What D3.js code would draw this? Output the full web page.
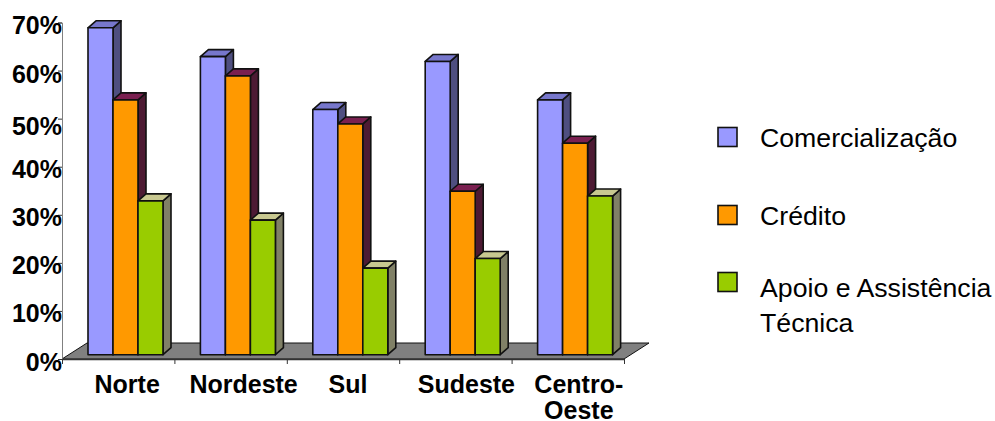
<!DOCTYPE html>
<html><head><meta charset="utf-8">
<script src="https://cdn.jsdelivr.net/npm/d3@7"></script>
<style>html,body{margin:0;padding:0;background:#fff;overflow:hidden}svg{display:block}text{font-family:"Liberation Sans",Arial,sans-serif;fill:#000}</style>
</head><body><div id="c"></div>
<script>
const categories = [["Norte"],["Nordeste"],["Sul"],["Sudeste"],["Centro-","Oeste"]];
const seriesNames = ["Comercialização","Crédito","Apoio e Assistência Técnica"];
const comercializacao = [68,62,51,61,53];
const credito = [53,58,48,34,44];
const apoio = [32,28,18,20,33];
const yTicks = [0,10,20,30,40,50,60,70];
const seriesValues = [comercializacao,credito,apoio];
const front = ["#9999ff","#ff9900","#99cc00"];
const topC = ["#7777cc","#7a2050","#c8c890"];
const side = ["#4f4f80","#4d1a33","#808066"];

const W=995,H=421;
const svg=d3.select("#c").append("svg").attr("width",W).attr("height",H);
const axisX0=62,axisX1=624,axisY0=359,axisY1=22.5;
const depthX=25,depthY=16, barDX=8, barDY=7, barBase=354.7;
const x0=d3.scaleBand().domain(d3.range(categories.length)).range([axisX0,axisX1]);
const x1=d3.scaleBand().domain(d3.range(3)).range([26,101]);
const y=d3.scaleLinear().domain([0,70]).range([axisY0,axisY1]);
const yBar=d3.scaleLinear().domain([0,70]).range([barBase,barBase-(axisY0-axisY1)]);
const path=d3.line();

// floor
svg.append("path").attr("d",path([[axisX0,axisY0],[axisX0+depthX,axisY0-depthY],[axisX1+depthX,axisY0-depthY],[axisX1,axisY0]])+"Z")
 .attr("fill","#808080").attr("stroke","#111").attr("stroke-width",1);

// axes
const yLabelShift={50:5,60:1};
const yAxis=d3.axisLeft(y).tickValues(yTicks).tickSize(4).tickFormat(d=>d+"%");
const gy=svg.append("g").attr("transform",`translate(${axisX0},0)`).call(yAxis);
gy.select(".domain").attr("stroke","#808080").attr("stroke-width",1);
gy.selectAll(".tick line").attr("stroke","#333");
gy.selectAll(".tick text").attr("x",0).attr("dy",0).attr("y",d=>11+(yLabelShift[d]||0)).attr("text-anchor","end")
 .style("font-size","25px").style("font-weight","700");

const xEdge=d3.scaleLinear().domain([0,categories.length]).range([axisX0,axisX1]);
const gx=svg.append("g").attr("transform",`translate(0,${axisY0})`)
 .call(d3.axisBottom(xEdge).ticks(5).tickSize(5).tickFormat(""));
gx.select(".domain").attr("stroke","#333").attr("stroke-width",1.5).attr("d",`M${axisX0},0.5H${axisX1}`);
gx.selectAll(".tick line").attr("stroke","#333");

// category labels
const catNudge=[9,13,5,11,11];
const cat=svg.append("g").selectAll("text").data(categories).join("text")
 .attr("text-anchor","middle").style("font-size","25px").style("font-weight","700");
cat.each(function(d,i){
  d3.select(this).selectAll("tspan").data(d).join("tspan")
   .attr("x",x0(i)+x0.bandwidth()/2+catNudge[i]).attr("y",(e,j)=>392.7+j*26.5).text(e=>e);
});

// bars
categories.forEach((c,i)=>{
  const g=svg.append("g").attr("transform",`translate(${x0(i)},0)`);
  [0,1,2].forEach(s=>{
    const v=seriesValues[s][i], l=x1(s), r=l+x1.bandwidth(), t=yBar(v), b=barBase;
    const st={stroke:"#111","stroke-width":1.6,"stroke-linejoin":"round"};
    const add=(pts,f)=>{const p=g.append("path").attr("d",path(pts)+"Z").attr("fill",f);Object.entries(st).forEach(([k,a])=>p.attr(k,a));};
    add([[r,t],[r+barDX,t-barDY],[r+barDX,b-barDY],[r,b]],side[s]);
    add([[l,t],[l+barDX,t-barDY],[r+barDX,t-barDY],[r,t]],topC[s]);
    add([[l,t],[r,t],[r,b],[l,b]],front[s]);
  });
});

// legend
const legY=[127.5,205.5,272.5];
const leg=svg.append("g").selectAll("g").data(seriesNames).join("g");
leg.append("rect").attr("x",718).attr("y",(d,i)=>legY[i]).attr("width",19).attr("height",19)
 .attr("fill",(d,i)=>front[i]).attr("stroke","#111").attr("stroke-width",1.6);
const legLines=[["Comercialização"],["Crédito"],["Apoio e Assistência","Técnica"]];
leg.append("text").style("font-size","26.7px").each(function(d,i){
  d3.select(this).selectAll("tspan").data(legLines[i]).join("tspan")
   .attr("x",760).attr("y",(e,j)=>[146.7,225,296.7][i]+j*35).text(e=>e);
});
</script></body></html>
